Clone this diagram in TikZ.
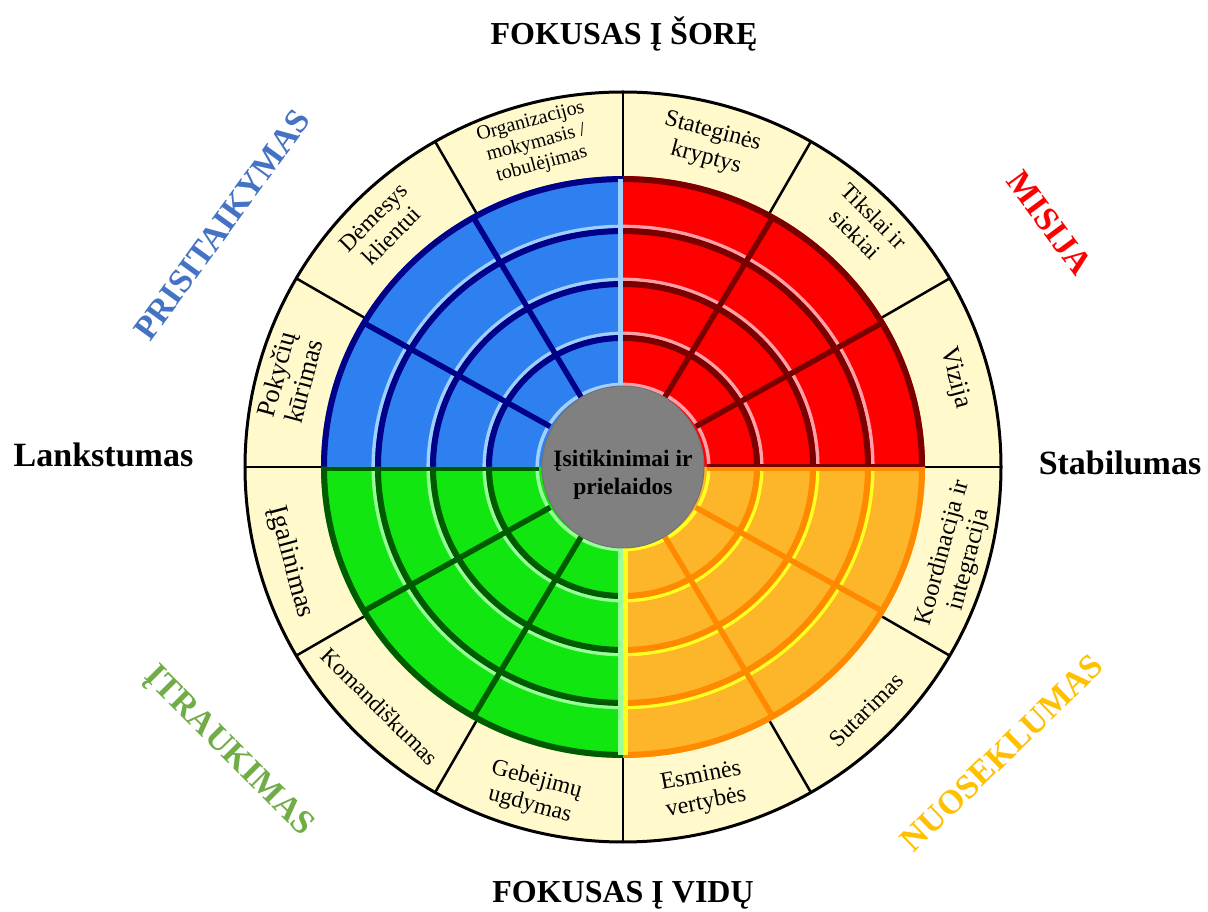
\documentclass[tikz,border=0pt]{standalone}
\usepackage{fontspec}
\setmainfont{Liberation Serif}
\usetikzlibrary{calc}
\definecolor{cream}{HTML}{FFF9CC}
\definecolor{bfill}{HTML}{2E80F0}
\definecolor{bdark}{HTML}{000088}
\definecolor{blight}{HTML}{9FD0FF}
\definecolor{rfill}{HTML}{FF0000}
\definecolor{rdark}{HTML}{7A0000}
\definecolor{rlight}{HTML}{FF9FA8}
\definecolor{gfill}{HTML}{11E611}
\definecolor{gdark}{HTML}{005A00}
\definecolor{glight}{HTML}{99FF99}
\definecolor{ofill}{HTML}{FDB52A}
\definecolor{odark}{HTML}{FF8A00}
\definecolor{olight}{HTML}{FFFF20}
\definecolor{lblue}{HTML}{4472C4}
\definecolor{lred}{HTML}{FF0000}
\definecolor{lgreen}{HTML}{70AD47}
\definecolor{lgold}{HTML}{FFC000}
\definecolor{coregray}{HTML}{808080}
\begin{document}
\begin{tikzpicture}[x=1pt,y=1pt,
  seglabel/.style n args={2}{align=center, font=\fontsize{#1}{#2}\selectfont, inner sep=0pt},
  sidelabel/.style={font=\fontsize{34}{40}\selectfont\bfseries, inner sep=0pt},
  titlelabel/.style={font=\fontsize{32}{38}\selectfont\bfseries, inner sep=0pt},
  diaglabel/.style={font=\fontsize{34}{40}\selectfont\bfseries, inner sep=0pt},
  corelabel/.style={align=center, font=\fontsize{23.5}{28}\selectfont\bfseries, inner sep=0pt},
  spoke/.style={line width=2.5, draw=black},
]
\useasboundingbox (0,0) rectangle (1208,911);
\fill[white] (0,0) rectangle (1208,911);
\coordinate (C) at (623,444);
% cream ring
\fill[cream] (C) ellipse [x radius=378, y radius=375];
\begin{scope}
\clip (C) ellipse [x radius=378, y radius=375];
\foreach \a in {0,30,...,330} \draw[spoke] (C) -- ++(\a:390);
\end{scope}
% coloured quadrants
\begin{scope}[shift={(C)}, yscale=0.963]
\foreach \s/\f/\d/\l in {90/bfill/bdark/blight, 0/rfill/rdark/rlight, 180/gfill/gdark/glight, 270/ofill/odark/olight}{
  \fill[\f] (0,0) -- (\s:302) arc[start angle=\s, end angle=\s+90, radius=302] -- cycle;
  \foreach \b [evaluate=\b as \r using \b+1.8] in {84,137,193,248}
    \draw[\l, line width=3.5] (\s:\r) arc[start angle=\s, end angle=\s+90, radius=\r];
  \foreach \b [evaluate=\b as \r using \b-3] in {137,193,248,302}
    \draw[\d, line width=6] (\s:\r) arc[start angle=\s, end angle=\s+90, radius=\r];
  \draw[\d, line width=5.5] (\s+30:84) -- (\s+30:300);
  \draw[\d, line width=5.5] (\s+60:84) -- (\s+60:300);
}
\draw[blight, line width=5] (-2.5,84) -- (-2.5,299);
\draw[glight, line width=5] (-2.5,-84) -- (-2.5,-299);
\draw[olight, line width=5] (2.5,-84) -- (2.5,-299);
\draw[gdark, line width=4] (-84,-2) -- (-299,-2);
\draw[rdark, line width=3] (84,1.5) -- (299,1.5);
\draw[odark, line width=4] (84,-2) -- (299,-2);
\end{scope}
% core
\node[circle, minimum size=162, fill=coregray, draw=black!55, line width=1] (core) at (C) {};
\node[corelabel] (coretext) at ([yshift=-8]C) {Įsitikinimai ir\\prielaidos};
% outer circle
\draw[line width=3] (C) ellipse [x radius=378, y radius=375];
% segment labels
\node[seglabel={20}{22}, rotate=15]  (s105) at ($(C)+(105:335)$) {Organizacijos\\mokymasis /\\tobulėjimas};
\node[seglabel={23.5}{26}, rotate=45]  (s135) at ($(C)+(135:340)$) {Dėmesys\\klientui};
\node[seglabel={26.5}{28}, rotate=75]  (s165) at ($(C)+(165:345)$) {Pokyčių\\kūrimas};
\node[seglabel={24}{27}, rotate=-15] (s75)  at ($(C)+(75:333)$) {Stateginės\\kryptys};
\node[seglabel={23}{26}, rotate=-45] (s45)  at ($(C)+(45:342)$) {Tikslai ir\\siekiai};
\node[seglabel={26}{28}, rotate=-75] (s15)  at ($(C)+(15:344)$) {Vizija};
\node[seglabel={24.5}{27}, rotate=75]  (sm15) at ($(C)+(-15:345)$) {Koordinacija ir\\integracija};
\node[seglabel={23.5}{26}, rotate=45]  (sm45) at ($(C)+(-45:344)$) {Sutarimas};
\node[seglabel={24}{27}, rotate=11]  (sm75) at ($(C)+(-76:333)$) {Esminės\\vertybės};
\node[seglabel={23.5}{26}, rotate=-15] (s255) at ($(C)+(254.6:338)$) {Gebėjimų\\ugdymas};
\node[seglabel={23}{26}, rotate=-45] (s225) at ($(C)+(224.6:341)$) {Komandiškumas};
\node[seglabel={27}{29}, rotate=-75] (s195) at ($(C)+(196:346)$) {Įgalinimas};
% outside labels
\node[titlelabel, anchor=base] (top) at (624,866) {FOKUSAS Į ŠORĘ};
\node[titlelabel, anchor=base] (bottom) at (623,9) {FOKUSAS Į VIDŲ};
\node[sidelabel, anchor=base] (left) at (103.5,444) {Lankstumas};
\node[sidelabel, anchor=base] (right) at (1120,436) {Stabilumas};
\node[diaglabel, text=lblue, rotate=54] (prisit) at (222,686) {PRISITAIKYMAS};
\node[diaglabel, text=lred, rotate=-53.5] (misija) at (1050,688) {MISIJA};
\node[diaglabel, text=lgreen, rotate=-45] (itrauk) at (228,159) {ĮTRAUKIMAS};
\node[diaglabel, text=lgold, rotate=44] (nuosek) at (1002,158) {NUOSEKLUMAS};
\end{tikzpicture}
\end{document}
